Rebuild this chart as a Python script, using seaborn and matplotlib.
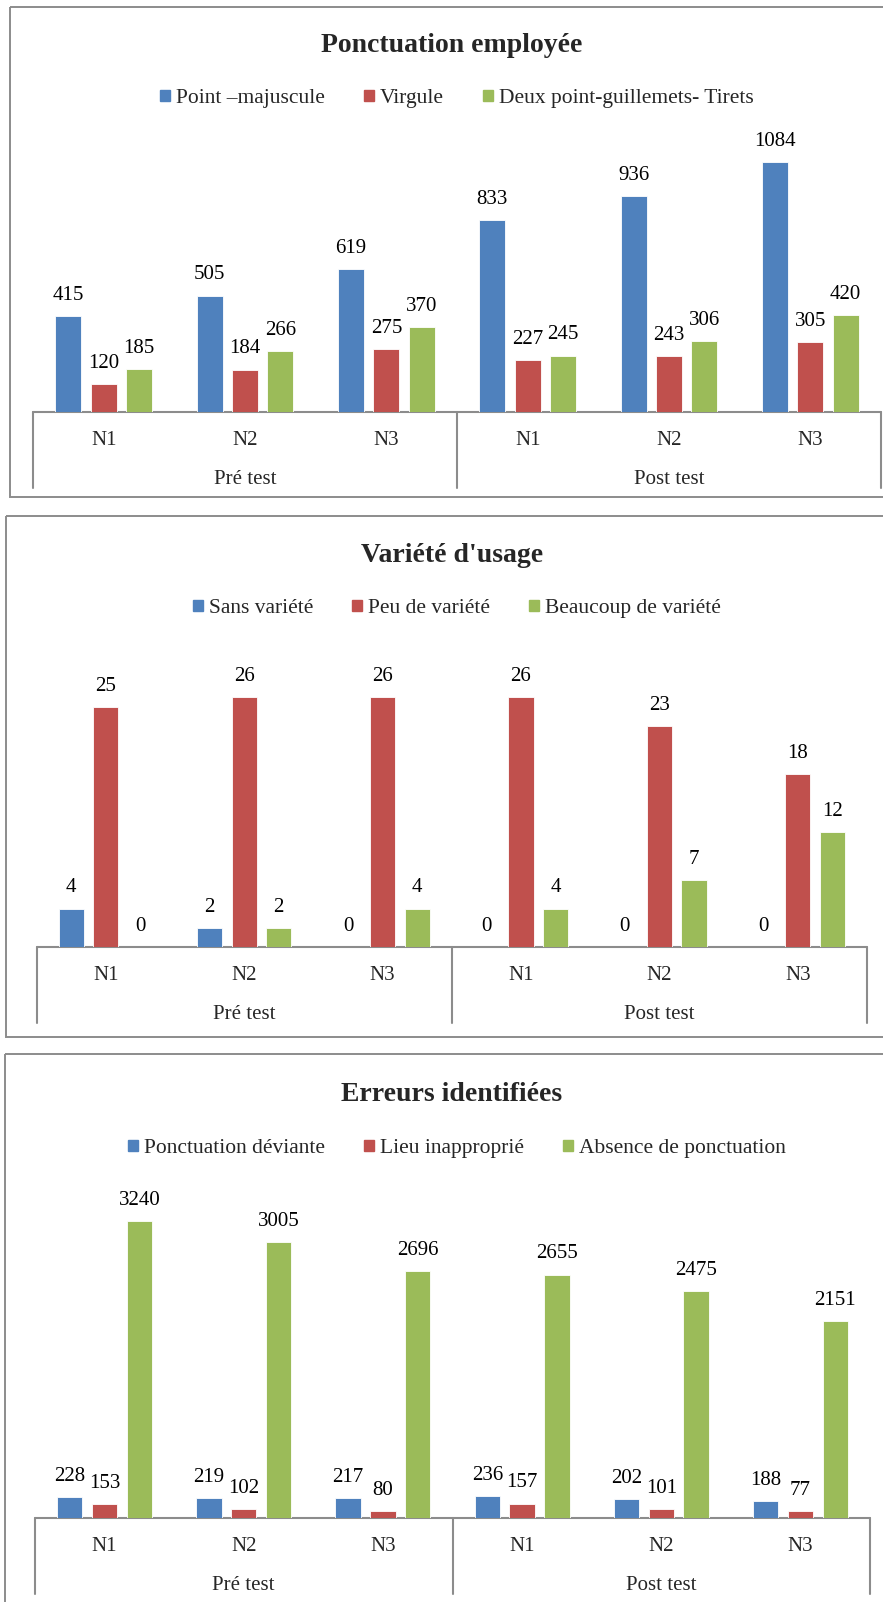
import matplotlib
matplotlib.use("Agg")
import matplotlib.pyplot as plt
import pandas as pd
import seaborn as sns
from matplotlib.patches import Rectangle

W, H = 883, 1602

groups = ["Pré test", "Post test"]
levels = ["N1", "N2", "N3"]
cats = [g + " " + n for g in groups for n in levels]

# Graphique 1
title1 = "Ponctuation employée"
series1 = ["Point –majuscule", "Virgule", "Deux point-guillemets- Tirets"]
point_maj = [415, 505, 619, 833, 936, 1084]
virgule = [120, 184, 275, 227, 243, 305]
deux_points = [185, 266, 370, 245, 306, 420]

# Graphique 2
title2 = "Variété d'usage"
series2 = ["Sans variété", "Peu de variété", "Beaucoup de variété"]
sans_var = [4, 2, 0, 0, 0, 0]
peu_var = [25, 26, 26, 26, 23, 18]
beaucoup_var = [0, 2, 4, 4, 7, 12]

# Graphique 3
title3 = "Erreurs identifiées"
series3 = ["Ponctuation déviante", "Lieu inapproprié", "Absence de ponctuation"]
deviante = [228, 219, 217, 236, 202, 188]
lieu = [153, 102, 80, 157, 101, 77]
absence = [3240, 3005, 2696, 2655, 2475, 2151]

colors = ["#4F81BD", "#C0504D", "#9BBB59"]
line_col = "#8c8c8c"

sns.set_style("white")
plt.rcParams["font.family"] = ["Liberation Serif", "DejaVu Serif"]

fig = plt.figure(figsize=(W / 100, H / 100), dpi=100)

# calque en pixels pour cadres, titres et axe des categories
over = fig.add_axes([0, 0, 1, 1], zorder=-1)
over.set_xlim(0, W)
over.set_ylim(H, 0)
over.axis("off")

# (titre, series, valeurs, ymax, cadre gauche/haut/bas, axe gauche/droite/base, y titre, y legende, bas boite)
panels = [
    (title1, series1, [point_maj, virgule, deux_points], 1200, (10, 6.5, 497), (33, 881, 412), 45.5, 98.5, 488),
    (title2, series2, [sans_var, peu_var, beaucoup_var], 30, (5.5, 515.7, 1036.5), (36.6, 867, 947), 555.5, 608.5, 1023),
    (title3, series3, [deviante, lieu, absence], 3500, (5, 1054, None), (35, 870, 1518), 1094.5, 1148.5, 1594),
]
px_per_unit = [0.2305, 9.615, 0.0917]

for k, (title, series, vals, ymax, frame, axl, ty, ly, box_bottom) in enumerate(panels):
    fl, ft, fb = frame
    l, r, base = axl
    top = base - ymax * px_per_unit[k]

    # cadre du graphique
    if fb is None:
        fb = H + 20
    over.add_patch(Rectangle((fl, ft), W + 20 - fl, fb - ft, fill=False,
                             edgecolor=line_col, lw=1.4, clip_on=False))

    # donnees
    rows = []
    for s, v in zip(series, vals):
        for c, y in zip(cats, v):
            rows.append({"cat": c, "serie": s, "valeur": y})
    df = pd.DataFrame(rows)

    ax = fig.add_axes([l / W, 1 - base / H, (r - l) / W, (base - top) / H])
    sns.barplot(data=df, x="cat", y="valeur", hue="serie", order=cats, hue_order=series,
                palette=colors, saturation=1, width=0.75, gap=0.27, errorbar=None,
                legend=False, ax=ax, edgecolor="white", linewidth=0.6)
    ax.set_xlim(-0.5, 5.5)
    ax.set_ylim(0, ymax)
    ax.axis("off")
    for cont in ax.containers:
        ax.bar_label(cont, padding=8, fontsize=15, color="#000000")

    # axe des categories (boite)
    mid = (l + r) / 2
    over.plot([l, r], [base, base], color=line_col, lw=1.5)
    for xv in (l, mid, r):
        over.plot([xv, xv], [base, box_bottom], color=line_col, lw=1.5)
    gw = (r - l) / 6
    for i, c in enumerate(cats):
        over.text(l + (i + 0.5) * gw, base + 33, levels[i % 3], ha="center",
                  va="baseline", fontsize=15)
    for j, g in enumerate(groups):
        over.text(l + (j * 3 + 1.5) * gw, base + 72, g, ha="center",
                  va="baseline", fontsize=15)

    # titre et legende
    over.text(452, ty, title, ha="center", va="center", fontsize=20, fontweight="bold")
    handles = [Rectangle((0, 0), 1, 1, color=c) for c in colors]
    fig.legend(handles, series, loc="center", bbox_to_anchor=(457 / W, 1 - ly / H),
               ncol=3, frameon=False, fontsize=15.5, handlelength=0.45, handleheight=0.45,
               handletextpad=0.3, columnspacing=1.8)

fig.savefig("out.png", dpi=100, facecolor="white")
